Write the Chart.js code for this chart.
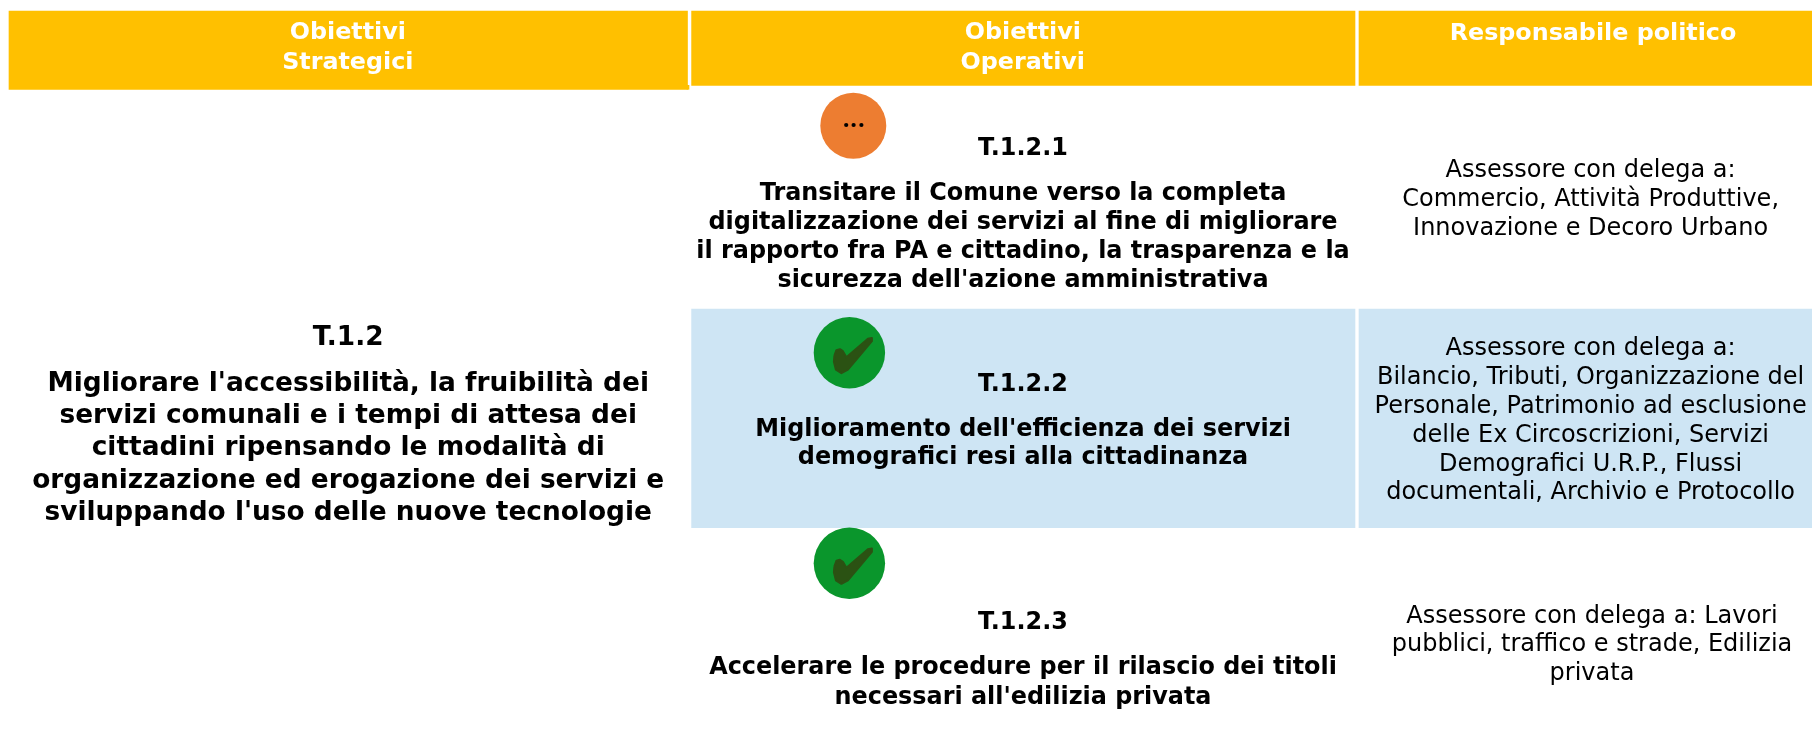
<!DOCTYPE html>
<html lang="it">
<head>
<meta charset="utf-8">
<title>Obiettivi</title>
<style>html,body{margin:0;padding:0;background:#fff}canvas{display:block}</style>
<script src="https://cdn.jsdelivr.net/npm/chart.js@4/dist/chart.umd.js"></script>
</head>
<body>
<canvas id="c" width="1812" height="749"></canvas>
<script>
// ---- content ----
const headerStrategici = ["Obiettivi", "Strategici"];
const headerOperativi = ["Obiettivi", "Operativi"];
const headerResponsabile = ["Responsabile politico"];
const strategicCode = ["T.1.2"];
const strategicText = ["Migliorare l'accessibilità, la fruibilità dei", "servizi comunali e i tempi di attesa dei", "cittadini ripensando le modalità di", "organizzazione ed erogazione dei servizi e", "sviluppando l'uso delle nuove tecnologie"];
const operativeCodes = ["T.1.2.1", "T.1.2.2", "T.1.2.3"];
const operative1 = ["Transitare il Comune verso la completa", "digitalizzazione dei servizi al fine di migliorare", "il rapporto fra PA e cittadino, la trasparenza e la", "sicurezza dell'azione amministrativa"];
const operative2 = ["Miglioramento dell'efficienza dei servizi", "demografici resi alla cittadinanza"];
const operative3 = ["Accelerare le procedure per il rilascio dei titoli", "necessari all'edilizia privata"];
const owner1 = ["Assessore con delega a:", "Commercio, Attività Produttive,", "Innovazione e Decoro Urbano"];
const owner2 = ["Assessore con delega a:", "Bilancio, Tributi, Organizzazione del", "Personale, Patrimonio ad esclusione", "delle Ex Circoscrizioni, Servizi", "Demografici U.R.P., Flussi", "documentali, Archivio e Protocollo"];
const owner3 = ["Assessore con delega a: Lavori", "pubblici, traffico e strade, Edilizia", "privata"];

// ---- layout (table grid, in scale units) ----
const C = {yellow:"#FFC000", blue:"#CEE5F4", orange:"#ED7D31", green:"#0A962C", tick:"#2B5213", ink:"#000", white:"#fff"};
const cells = [
  {x0:9, x1:687.5, y0:11, y1:89.3, c:C.yellow},
  {x0:687, x1:689, y0:85.3, y1:89.3, c:C.yellow},
  {x0:691.6, x1:1355, y0:11, y1:85.3, c:C.yellow},
  {x0:1359, x1:1812, y0:11, y1:85.3, c:C.yellow},
  {x0:691.6, x1:1355, y0:309, y1:527.7, c:C.blue},
  {x0:1359, x1:1812, y0:309, y1:527.7, c:C.blue}
];
const cellSets = cells.map(k => ({
  type:"bar", grouped:false, barThickness:k.x1-k.x0, backgroundColor:k.c, borderWidth:0, order:5,
  data:[{x:(k.x0+k.x1)/2, y:[k.y0,k.y1]}]
}));
const discs = [
  {x:853.3, y:125.7, r:33, c:C.orange},
  {x:849.4, y:352.7, r:35.7, c:C.green},
  {x:849.4, y:563.3, r:35.7, c:C.green}
];
const discSets = discs.map(d => ({
  type:"scatter", pointRadius:d.r, pointBackgroundColor:d.c, pointBorderWidth:0, order:4, data:[{x:d.x,y:d.y}]
}));
const dotSet = {type:"scatter", pointRadius:2.1, pointBackgroundColor:"#000", pointBorderWidth:0, order:3,
  data:[{x:846.2,y:125},{x:853.6,y:125},{x:861.4,y:125}]};
const tickShape = [[-15,3],[-13,-2.5],[-9.5,-3.5],[-6.5,-1.5],[-3,4.5],[18.5,-14],[22.5,-14.8],[22.5,-11.5],[-1.5,17],[-8,20.5],[-13.5,17],[-15.5,9]];
const tickSets = discs.slice(1).map(d => ({
  type:"scatter", showLine:true, fill:"shape", tension:0, pointRadius:0, order:2,
  borderColor:C.tick, backgroundColor:C.tick, borderWidth:2, borderJoinStyle:"round",
  data:tickShape.concat([tickShape[0]]).map(p => ({x:d.x+p[0], y:d.y+p[1]}))
}));

const F = "'DejaVu Sans'";
const blocks = [
  {t:headerStrategici, x:347.8, y:[33.3,63], f:"bold 23.8px "+F, c:C.white},
  {t:headerOperativi, x:1022.8, y:[33.3,63], f:"bold 23.8px "+F, c:C.white},
  {t:headerResponsabile, x:1593, y:[33.8], f:"bold 23.8px "+F, c:C.white},
  {t:strategicCode, x:348.2, y:[338], f:"bold 26.4px "+F, c:C.ink},
  {t:strategicText, x:348.2, y:[384,416.4,448.6,480.8,513], f:"bold 26.4px "+F, c:C.ink},
  {t:[operativeCodes[0]], x:1023, y:[148.5], f:"bold 23.9px "+F, c:C.ink},
  {t:operative1, x:1023, y:[194,223,252,281], f:"bold 23.9px "+F, c:C.ink},
  {t:[operativeCodes[1]], x:1023, y:[384.5], f:"bold 23.9px "+F, c:C.ink},
  {t:operative2, x:1023, y:[429.3,457.8], f:"bold 23.9px "+F, c:C.ink},
  {t:[operativeCodes[2]], x:1023, y:[622.8], f:"bold 23.9px "+F, c:C.ink},
  {t:operative3, x:1023, y:[668,697.5], f:"bold 23.9px "+F, c:C.ink},
  {t:owner1, x:1590.6, y:[170.8,199.8,228.6], f:"24px "+F, c:C.ink},
  {t:owner2, x:1590.6, y:[348.4,377.4,406.4,435.4,464.4,493.2], f:"24px "+F, c:C.ink},
  {t:owner3, x:1592, y:[616.8,645,673.8], f:"24px "+F, c:C.ink}
];
const textPlugin = {
  id:"tableText",
  afterDatasetsDraw(chart){
    const {ctx, scales:{x, y}} = chart;
    ctx.save();
    ctx.textAlign = "center";
    ctx.textBaseline = "middle";
    blocks.forEach(b => {
      ctx.font = b.f; ctx.fillStyle = b.c;
      b.t.forEach((line,i) => ctx.fillText(line, x.getPixelForValue(b.x), y.getPixelForValue(b.y[i])));
    });
    ctx.restore();
  }
};
new Chart(document.getElementById("c"), {
  type:"bar",
  data:{datasets:[...cellSets, ...discSets, dotSet, ...tickSets]},
  plugins:[textPlugin],
  options:{
    responsive:false, animation:false, events:[],
    layout:{padding:0, autoPadding:false},
    plugins:{legend:{display:false}, tooltip:{enabled:false}, title:{display:false}},
    scales:{
      x:{type:"linear", min:0, max:1812, offset:false, display:false},
      y:{type:"linear", min:0, max:749, reverse:true, display:false}
    }
  }
});
</script>
</body>
</html>
